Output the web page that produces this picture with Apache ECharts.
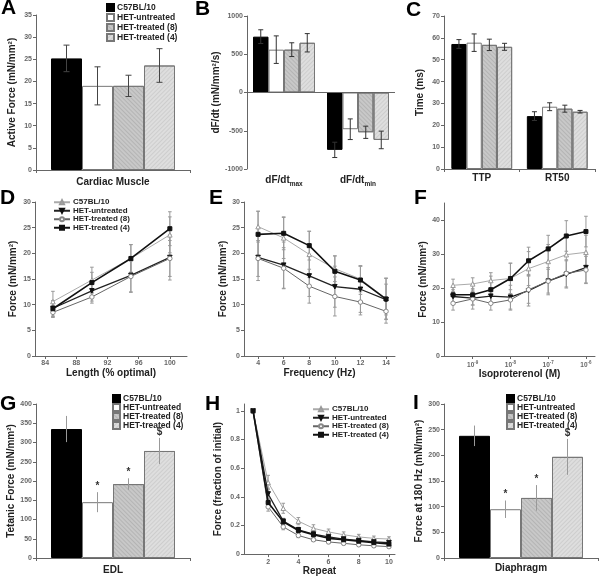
<!DOCTYPE html>
<html><head><meta charset="utf-8">
<script src="https://cdn.jsdelivr.net/npm/echarts@6/dist/echarts.min.js"></script>
<style>html,body{margin:0;padding:0;background:#fff}#c{width:600px;height:577px}</style>
</head><body><div id="c"></div>
<script>
// ---------- DATA ----------
const groups = ['C57BL/10', 'HET-untreated', 'HET-treated (8)', 'HET-treated (4)'];

// A: cardiac muscle active force
const aCategory = ['Cardiac Muscle'];
const aValues = [[25.2], [19.0], [19.0], [23.6]];
const aErrors = [[3.0], [4.3], [2.4], [3.8]];

// B: dF/dt
const bCategories = ['max', 'min'];
const bValues = [[730, -750], [560, -480], [560, -520], [650, -620]];
const bErrors = [[90, 100], [180, 135], [90, 80], [120, 115]];

// C: time
const cCategories = ['TTP', 'RT50'];
const cValues = [[57.2, 24.2], [57.8, 28.5], [56.8, 27.6], [55.9, 26.2]];
const cErrors = [[2.0, 2.0], [4.0, 1.8], [2.6, 1.6], [1.6, 0.6]];

// D: length-force
const dLengths = [85, 90, 95, 100];
const dTicks = [84, 88, 92, 96, 100];
const dValues = [
  [10.6, 14.8, 19.0, 23.6],
  [9.3, 12.7, 15.7, 19.2],
  [8.5, 11.5, 15.5, 19.0],
  [9.2, 14.3, 19.0, 24.8]
];
const dErrors = [
  [2.0, 2.5, 2.7, 3.5],
  [1.5, 2.0, 3.3, 4.4],
  [1.0, 1.2, 3.0, 3.5],
  [1.5, 2.0, 2.7, 3.3]
];

// E: force-frequency
const eFreqs = [4, 6, 8, 10, 12, 14];
const eTicks = [4, 6, 8, 10, 12, 14];
const eValues = [
  [25.2, 23.0, 19.8, 17.0, 15.0, 11.2],
  [19.2, 17.7, 15.6, 13.5, 13.0, 11.0],
  [19.0, 17.1, 13.6, 11.6, 10.5, 8.7],
  [23.7, 23.9, 21.5, 16.5, 14.8, 11.1]
];
const eErrors = [
  [3.0, 4.0, 4.5, 2.5, 2.5, 4.0],
  [4.5, 4.5, 4.0, 4.0, 4.5, 3.0],
  [3.5, 4.0, 3.3, 3.8, 2.5, 2.3],
  [4.5, 3.2, 2.8, 3.0, 2.8, 4.0]
];

// F: isoproterenol (log10 M)
const fLogConc = [-9.52, -9, -8.52, -8, -7.52, -7, -6.52, -6];
const fTicks = [-9, -8, -7, -6];
const fYTicks = [0, 10, 20, 30, 40];
const fValues = [
  [20.8, 21.2, 22.2, 22.8, 25.7, 27.8, 29.8, 30.5],
  [17.5, 17.0, 17.6, 17.3, 19.2, 22.0, 24.0, 26.0],
  [15.5, 16.8, 15.5, 16.5, 19.5, 22.0, 24.3, 25.3],
  [18.0, 18.0, 19.5, 22.8, 28.0, 31.5, 35.3, 36.6]
];
const fErrors = [
  [1.8, 1.8, 2.3, 4.5, 5.0, 5.0, 5.0, 5.0],
  [2.0, 2.0, 2.0, 3.5, 4.5, 3.5, 4.0, 4.5],
  [2.0, 3.0, 2.0, 3.0, 4.0, 4.0, 4.0, 4.0],
  [2.5, 3.0, 4.0, 4.5, 4.0, 4.0, 4.5, 4.5]
];

// G: EDL tetanic force
const gCategory = ['EDL'];
const gValues = [[335], [145], [192], [278]];
const gErrors = [[34], [26], [15], [34]];
const gMarks = ['', '*', '*', '$'];

// H: fatigue
const hRepeats = [1, 2, 3, 4, 5, 6, 7, 8, 9, 10];
const hTicks = [2, 4, 6, 8, 10];
const hYTicks = [0, 0.2, 0.4, 0.6, 0.8, 1];
const hValues = [
  [1, 0.50, 0.32, 0.23, 0.18, 0.155, 0.135, 0.12, 0.11, 0.105],
  [1, 0.42, 0.23, 0.17, 0.14, 0.12, 0.105, 0.095, 0.085, 0.08],
  [1, 0.33, 0.19, 0.13, 0.10, 0.085, 0.075, 0.065, 0.058, 0.052],
  [1, 0.36, 0.225, 0.165, 0.135, 0.11, 0.10, 0.09, 0.08, 0.07]
];
const hErrors = [
  [0, 0.05, 0.035, 0.025, 0.025, 0.02, 0.02, 0.018, 0.016, 0.016],
  [0, 0.04, 0.02, 0.018, 0.015, 0.014, 0.012, 0.012, 0.012, 0.012],
  [0, 0.03, 0.02, 0.015, 0.012, 0.012, 0.01, 0.01, 0.01, 0.01],
  [0, 0.03, 0.02, 0.015, 0.015, 0.013, 0.012, 0.012, 0.012, 0.012]
];

// I: diaphragm force at 180 Hz
const iCategory = ['Diaphragm'];
const iValues = [[238], [95], [117], [197]];
const iErrors = [[20], [17], [25], [35]];
const iMarks = ['', '*', '*', '$'];

// ---------- STYLE ----------
const FONT = '"Liberation Sans", Arial, sans-serif';
const barStyles = [
  {color: '#000', borderColor: '#000', borderWidth: 1},
  {color: '#fff', borderColor: '#777', borderWidth: 1},
  {color: '#c8c8c8', borderColor: '#777', borderWidth: 1,
    decal: {symbol: 'rect', symbolSize: 1, dashArrayX: [1, 0], dashArrayY: [1, 2], rotation: Math.PI / 4, color: 'rgba(90,90,90,0.18)'}},
  {color: '#dedede', borderColor: '#777', borderWidth: 1,
    decal: {symbol: 'rect', symbolSize: 1, dashArrayX: [1, 0], dashArrayY: [1, 2], rotation: -Math.PI / 4, color: 'rgba(120,120,120,0.16)'}}
];
const lineStyles = [
  {line: '#aaaaaa', width: 1, symbol: 'triangle', rotate: 0, size: 4.5, fill: '#fff', border: '#999'},
  {line: '#222', width: 1.3, symbol: 'triangle', rotate: 180, size: 4.5, fill: '#111', border: '#111'},
  {line: '#666', width: 1, symbol: 'circle', rotate: 0, size: 4.5, fill: '#fff', border: '#888'},
  {line: '#111', width: 1.6, symbol: 'rect', rotate: 0, size: 4, fill: '#111', border: '#111'}
];

const grids = [], xAxes = [], yAxes = [], series = [], legends = [], titles = [];

function axisCommon() {
  return {
    axisLine: {show: true, onZero: false, lineStyle: {color: '#666', width: 1}},
    axisTick: {show: true, length: 3, lineStyle: {color: '#666'}},
    axisLabel: {fontSize: 7, fontWeight: 'bold', color: '#666', fontFamily: FONT, margin: 4, formatter: v => String(v)},
    splitLine: {show: false}
  };
}
function yAxis(idx, min, max, name, gap, extra) {
  const a = Object.assign(axisCommon(), {
    type: 'value', gridIndex: idx, min: min, max: max,
    name: name, nameLocation: 'middle', nameGap: gap,
    nameTextStyle: {fontSize: 10, fontWeight: 'bold', color: '#222', fontFamily: FONT}
  }, extra || {});
  yAxes.push(a);
}
function panelTitle(t, left, top) {
  titles.push({text: t, left: left, top: top, padding: 0,
    textStyle: {fontSize: 21, fontWeight: 'bold', color: '#000', fontFamily: FONT}});
}

function barPanel(key, idx, rect, cats, values, errors, opt) {
  grids.push(Object.assign({containLabel: false}, rect));
  const xa = Object.assign(axisCommon(), {
    type: 'category', gridIndex: idx, data: cats
  });
  xa.axisLabel = Object.assign({}, xa.axisLabel, {interval: 0, fontSize: opt.catSize || 10, color: '#222', margin: opt.catMargin || 6},
    opt.catLabel || {});
  if (opt.hideXLine) { xa.axisLine = {show: false}; xa.axisTick = {show: false}; }
  xAxes.push(xa);
  const bw = opt.barWidth;
  for (let g = 0; g < 4; g++) {
    const s = {
      type: 'bar', name: groups[g] + '#' + key, xAxisIndex: idx, yAxisIndex: idx,
      data: values[g], barWidth: bw, barGap: '0%', itemStyle: barStyles[g], z: 2
    };
    if (opt.zeroLine && g === 0) {
      s.markLine = {silent: true, symbol: 'none', label: {show: false},
        lineStyle: {color: '#666', width: 1, type: 'solid'}, data: [{yAxis: 0}]};
    }
    series.push(s);
    const marks = opt.marks;
    series.push({
      type: 'custom', name: 'err' + key + g, xAxisIndex: idx, yAxisIndex: idx, z: 4,
      encode: {x: 0, y: 1},
      data: cats.map((c, ci) => [ci, values[g][ci], errors[g][ci]]),
      renderItem: function (params, api) {
        const ci = api.value(0), v = api.value(1), e = api.value(2);
        const p = api.coord([ci, v]);
        const x = p[0] + (g - 1.5) * bw;
        const top = api.coord([ci, v + e])[1];
        const bot = api.coord([ci, v - e])[1];
        const st = {stroke: opt.errColor, lineWidth: 1};
        const ch = [{type: 'line', shape: {x1: x, y1: top, x2: x, y2: bot}, style: st}];
        if (opt.caps) {
          ch.push({type: 'line', shape: {x1: x - opt.caps, y1: top, x2: x + opt.caps, y2: top}, style: st});
          ch.push({type: 'line', shape: {x1: x - opt.caps, y1: bot, x2: x + opt.caps, y2: bot}, style: st});
        }
        if (marks && marks[g]) {
          ch.push({type: 'text', x: x, y: top - 1, style: {text: marks[g], fill: '#333',
            font: 'bold 10px ' + FONT, align: 'center', verticalAlign: 'bottom'}});
        }
        return {type: 'group', children: ch};
      }
    });
  }
  if (opt.legend) {
    legends.push(Object.assign({
      data: groups.map(n => n + '#' + key), formatter: n => n.split('#')[0],
      orient: 'vertical', itemWidth: 7, itemHeight: 7, itemGap: 1, padding: 0,
      selectedMode: false, icon: 'rect',
      textStyle: {fontSize: 8.5, lineHeight: 9, fontWeight: 'bold', fontFamily: FONT, color: '#222', padding: [0, 0, 0, -2]}
    }, opt.legend));
  }
}

function linePanel(key, idx, rect, xs, values, errors, opt) {
  grids.push(Object.assign({containLabel: false}, rect));
  const xa = Object.assign(axisCommon(), {
    type: 'value', gridIndex: idx, min: opt.xMin, max: opt.xMax,
    name: opt.xName, nameLocation: 'middle', nameGap: opt.xGap,
    nameTextStyle: {fontSize: 10, fontWeight: 'bold', color: '#222', fontFamily: FONT}
  });
  xa.axisTick = Object.assign({}, xa.axisTick, {customValues: opt.xTicks});
  xa.axisLabel = Object.assign({}, xa.axisLabel, {customValues: opt.xTicks}, opt.xLabel || {});
  xAxes.push(xa);
  for (let g = 0; g < 4; g++) {
    const ls = lineStyles[g];
    series.push({
      type: 'line', name: groups[g] + '#' + key, xAxisIndex: idx, yAxisIndex: idx,
      data: xs.map((x, i) => [x, values[g][i]]),
      symbol: ls.symbol, symbolSize: ls.size, symbolRotate: ls.rotate, showAllSymbol: true,
      lineStyle: {color: ls.line, width: ls.width},
      itemStyle: {color: ls.fill, borderColor: ls.border, borderWidth: 1},
      z: 3 + g
    });
    series.push({
      type: 'custom', name: 'err' + key + g, xAxisIndex: idx, yAxisIndex: idx, z: 2,
      encode: {x: 0, y: 1},
      data: xs.map((x, i) => [x, values[g][i], errors[g][i]]),
      renderItem: function (params, api) {
        const x0 = api.value(0), v = api.value(1), e = api.value(2);
        if (!e) return;
        const t = api.coord([x0, v + e]), b = api.coord([x0, v - e]);
        const st = {stroke: '#999', lineWidth: 1};
        const c = 1.8;
        return {type: 'group', children: [
          {type: 'line', shape: {x1: t[0], y1: t[1], x2: b[0], y2: b[1]}, style: st},
          {type: 'line', shape: {x1: t[0] - c, y1: t[1], x2: t[0] + c, y2: t[1]}, style: st},
          {type: 'line', shape: {x1: b[0] - c, y1: b[1], x2: b[0] + c, y2: b[1]}, style: st}
        ]};
      }
    });
  }
  if (opt.legend) {
    legends.push(Object.assign({
      data: groups.map(n => n + '#' + key), formatter: n => n.split('#')[0],
      orient: 'vertical', itemWidth: 16, itemHeight: 5, itemGap: 0, padding: 0,
      selectedMode: false,
      textStyle: {fontSize: 8, lineHeight: 8.5, fontWeight: 'bold', fontFamily: FONT, color: '#222', padding: [0, 0, 0, -2]}
    }, opt.legend));
  }
}

// ---------- PANELS ----------
// A
barPanel('A', 0, {left: 36, top: 15, width: 154, height: 155}, aCategory, aValues, aErrors,
  {barWidth: 31, errColor: '#444', caps: 3, catMargin: 7,
   legend: {left: 106, top: 3}});
yAxis(0, 0, 35, 'Active Force (mN/mm²)', 19, {interval: 5});
panelTitle('A', 1, -2);

// B
barPanel('B', 1, {left: 247, top: 16, width: 148, height: 153}, bCategories, bValues, bErrors,
  {barWidth: 15.5, errColor: '#333', caps: 2.5, hideXLine: true, zeroLine: true, catMargin: 3,
   catLabel: {formatter: v => '{a|dF/dt}{s|' + v + '}',
     rich: {a: {fontSize: 10, fontWeight: 'bold', color: '#222', fontFamily: FONT},
            s: {fontSize: 6.5, fontWeight: 'bold', color: '#222', fontFamily: FONT, padding: [9, 0, 0, 0]}}}});
yAxis(1, -1000, 1000, 'dF/dt (mN/mm²/s)', 22, {interval: 500});
panelTitle('B', 195, -1);

// C
barPanel('C', 2, {left: 444, top: 16, width: 151, height: 153}, cCategories, cValues, cErrors,
  {barWidth: 15.2, errColor: '#333', caps: 2.5, catMargin: 4});
yAxis(2, 0, 70, 'Time (ms)', 19, {interval: 10});
panelTitle('C', 406, 0);

// D
linePanel('D', 3, {left: 35, top: 202, width: 152, height: 154}, dLengths, dValues, dErrors,
  {xMin: 82.7, xMax: 102.2, xTicks: dTicks, xName: 'Length (% optimal)', xGap: 12,
   legend: {left: 53, top: 198}});
yAxis(3, 0, 30, 'Force (mN/mm²)', 17, {interval: 5});
panelTitle('D', 0, 188);

// E
linePanel('E', 4, {left: 244, top: 202, width: 151, height: 154}, eFreqs, eValues, eErrors,
  {xMin: 2.9, xMax: 14.7, xTicks: eTicks, xName: 'Frequency (Hz)', xGap: 12});
yAxis(4, 0, 30, 'Force (mN/mm²)', 16, {interval: 5});
panelTitle('E', 209, 188);

// F
linePanel('F', 5, {left: 444, top: 203, width: 151, height: 153}, fLogConc, fValues, fErrors,
  {xMin: -9.76, xMax: -5.76, xTicks: fTicks, xName: 'Isoproterenol (M)', xGap: 12,
   xLabel: {formatter: v => '{b|10}{s|' + v + '}',
     rich: {b: {fontSize: 6.5, fontWeight: 'bold', color: '#666', fontFamily: FONT},
            s: {fontSize: 4.5, fontWeight: 'bold', color: '#666', fontFamily: FONT, padding: [0, 0, 5, 0]}}}});
yAxis(5, 0, 45, 'Force (mN/mm²)', 16,
  {axisTick: {show: true, length: 3, lineStyle: {color: '#666'}, customValues: fYTicks},
   axisLabel: {fontSize: 7, fontWeight: 'bold', color: '#666', fontFamily: FONT, margin: 4, customValues: fYTicks}});
panelTitle('F', 414, 188);

// G
barPanel('G', 6, {left: 36, top: 404, width: 154, height: 154}, gCategory, gValues, gErrors,
  {barWidth: 31, errColor: '#999', caps: 0, catMargin: 7, marks: gMarks,
   legend: {left: 112, top: 394, itemGap: 0}});
yAxis(6, 0, 400, 'Tetanic Force (mN/mm²)', 16, {interval: 50});
panelTitle('G', 0, 394);

// H
linePanel('H', 7, {left: 244, top: 404, width: 151, height: 153}, hRepeats, hValues, hErrors,
  {xMin: 0.4, xMax: 10.4, xTicks: hTicks, xName: 'Repeat', xGap: 11,
   legend: {left: 312, top: 405}});
yAxis(7, 0, 1.048, 'Force (fraction of initial)', 21,
  {axisTick: {show: true, length: 3, lineStyle: {color: '#666'}, customValues: hYTicks},
   axisLabel: {fontSize: 7, fontWeight: 'bold', color: '#666', fontFamily: FONT, margin: 4, customValues: hYTicks,
     formatter: v => String(Math.round(v * 10) / 10)}});
panelTitle('H', 205, 394);

// I
barPanel('I', 8, {left: 444, top: 404, width: 154, height: 154}, iCategory, iValues, iErrors,
  {barWidth: 31, errColor: '#999', caps: 0, catMargin: 5, marks: iMarks,
   legend: {left: 506, top: 394, itemGap: 0}});
yAxis(8, 0, 300, 'Force at 180 Hz (mN/mm²)', 19, {interval: 50});
panelTitle('I', 413, 393);

const chart = echarts.init(document.getElementById('c'), null, {renderer: 'canvas'});
chart.setOption({
  animation: false,
  backgroundColor: '#fff',
  textStyle: {fontFamily: FONT},
  title: titles,
  legend: legends,
  grid: grids,
  xAxis: xAxes,
  yAxis: yAxes,
  series: series
});
</script></body></html>
